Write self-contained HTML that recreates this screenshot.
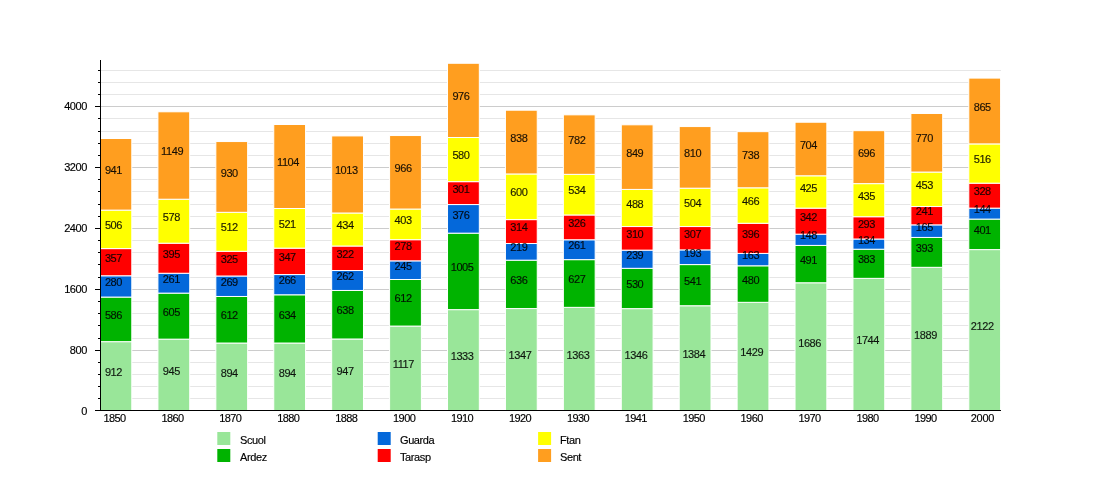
<!DOCTYPE html>
<html><head><meta charset="utf-8"><title>Chart</title>
<style>html,body{margin:0;padding:0;background:#fff}svg{display:block}text{font-family:"Liberation Sans",sans-serif;font-size:11px;letter-spacing:-0.4px;fill:#000;stroke:#000;stroke-width:0.15px}.xl text{letter-spacing:-0.6px}.bl text{fill-opacity:.88;stroke-opacity:.88}</style></head><body>
<svg width="1100" height="500" viewBox="0 0 1100 500">
<rect width="1100" height="500" fill="#fff"/>
<g shape-rendering="crispEdges">
<rect x="101" y="398" width="900" height="1" fill="#e6e6e6"/>
<rect x="101" y="386" width="900" height="1" fill="#e6e6e6"/>
<rect x="101" y="374" width="900" height="1" fill="#e6e6e6"/>
<rect x="101" y="362" width="900" height="1" fill="#e6e6e6"/>
<rect x="101" y="350" width="900" height="1" fill="#cccccc"/>
<rect x="101" y="338" width="900" height="1" fill="#e6e6e6"/>
<rect x="101" y="325" width="900" height="1" fill="#e6e6e6"/>
<rect x="101" y="313" width="900" height="1" fill="#e6e6e6"/>
<rect x="101" y="301" width="900" height="1" fill="#e6e6e6"/>
<rect x="101" y="289" width="900" height="1" fill="#cccccc"/>
<rect x="101" y="277" width="900" height="1" fill="#e6e6e6"/>
<rect x="101" y="264" width="900" height="1" fill="#e6e6e6"/>
<rect x="101" y="252" width="900" height="1" fill="#e6e6e6"/>
<rect x="101" y="240" width="900" height="1" fill="#e6e6e6"/>
<rect x="101" y="228" width="900" height="1" fill="#cccccc"/>
<rect x="101" y="216" width="900" height="1" fill="#e6e6e6"/>
<rect x="101" y="204" width="900" height="1" fill="#e6e6e6"/>
<rect x="101" y="191" width="900" height="1" fill="#e6e6e6"/>
<rect x="101" y="179" width="900" height="1" fill="#e6e6e6"/>
<rect x="101" y="167" width="900" height="1" fill="#cccccc"/>
<rect x="101" y="155" width="900" height="1" fill="#e6e6e6"/>
<rect x="101" y="143" width="900" height="1" fill="#e6e6e6"/>
<rect x="101" y="131" width="900" height="1" fill="#e6e6e6"/>
<rect x="101" y="118" width="900" height="1" fill="#e6e6e6"/>
<rect x="101" y="106" width="900" height="1" fill="#cccccc"/>
<rect x="101" y="94" width="900" height="1" fill="#e6e6e6"/>
<rect x="101" y="82" width="900" height="1" fill="#e6e6e6"/>
<rect x="101" y="70" width="900" height="1" fill="#e6e6e6"/>
</g>
<g stroke="#fff" stroke-width="1.0">
<rect x="100.00" y="341.66" width="31.80" height="69.39" fill="#99e699"/>
<rect x="100.00" y="297.07" width="31.80" height="44.59" fill="#00b300"/>
<rect x="100.00" y="275.77" width="31.80" height="21.30" fill="#0468da"/>
<rect x="100.00" y="248.60" width="31.80" height="27.16" fill="#ff0000"/>
<rect x="100.00" y="210.10" width="31.80" height="38.50" fill="#ffff00"/>
<rect x="100.00" y="138.51" width="31.80" height="71.60" fill="#ff9e1f"/>
<rect x="157.92" y="339.15" width="31.80" height="71.90" fill="#99e699"/>
<rect x="157.92" y="293.12" width="31.80" height="46.03" fill="#00b300"/>
<rect x="157.92" y="273.26" width="31.80" height="19.86" fill="#0468da"/>
<rect x="157.92" y="243.20" width="31.80" height="30.05" fill="#ff0000"/>
<rect x="157.92" y="199.22" width="31.80" height="43.98" fill="#ffff00"/>
<rect x="157.92" y="111.80" width="31.80" height="87.42" fill="#ff9e1f"/>
<rect x="215.84" y="343.03" width="31.80" height="68.02" fill="#99e699"/>
<rect x="215.84" y="296.46" width="31.80" height="46.57" fill="#00b300"/>
<rect x="215.84" y="276.00" width="31.80" height="20.47" fill="#0468da"/>
<rect x="215.84" y="251.27" width="31.80" height="24.73" fill="#ff0000"/>
<rect x="215.84" y="212.31" width="31.80" height="38.96" fill="#ffff00"/>
<rect x="215.84" y="141.55" width="31.80" height="70.76" fill="#ff9e1f"/>
<rect x="273.76" y="343.03" width="31.80" height="68.02" fill="#99e699"/>
<rect x="273.76" y="294.79" width="31.80" height="48.24" fill="#00b300"/>
<rect x="273.76" y="274.55" width="31.80" height="20.24" fill="#0468da"/>
<rect x="273.76" y="248.15" width="31.80" height="26.40" fill="#ff0000"/>
<rect x="273.76" y="208.51" width="31.80" height="39.64" fill="#ffff00"/>
<rect x="273.76" y="124.51" width="31.80" height="84.00" fill="#ff9e1f"/>
<rect x="331.68" y="339.00" width="31.80" height="72.05" fill="#99e699"/>
<rect x="331.68" y="290.45" width="31.80" height="48.54" fill="#00b300"/>
<rect x="331.68" y="270.52" width="31.80" height="19.93" fill="#0468da"/>
<rect x="331.68" y="246.02" width="31.80" height="24.50" fill="#ff0000"/>
<rect x="331.68" y="213.00" width="31.80" height="33.02" fill="#ffff00"/>
<rect x="331.68" y="135.92" width="31.80" height="77.08" fill="#ff9e1f"/>
<rect x="389.60" y="326.06" width="31.80" height="84.99" fill="#99e699"/>
<rect x="389.60" y="279.50" width="31.80" height="46.57" fill="#00b300"/>
<rect x="389.60" y="260.85" width="31.80" height="18.64" fill="#0468da"/>
<rect x="389.60" y="239.70" width="31.80" height="21.15" fill="#ff0000"/>
<rect x="389.60" y="209.04" width="31.80" height="30.66" fill="#ffff00"/>
<rect x="389.60" y="135.54" width="31.80" height="73.50" fill="#ff9e1f"/>
<rect x="447.52" y="309.63" width="31.80" height="101.42" fill="#99e699"/>
<rect x="447.52" y="233.16" width="31.80" height="76.47" fill="#00b300"/>
<rect x="447.52" y="204.55" width="31.80" height="28.61" fill="#0468da"/>
<rect x="447.52" y="181.65" width="31.80" height="22.90" fill="#ff0000"/>
<rect x="447.52" y="137.52" width="31.80" height="44.13" fill="#ffff00"/>
<rect x="447.52" y="63.26" width="31.80" height="74.26" fill="#ff9e1f"/>
<rect x="505.44" y="308.56" width="31.80" height="102.49" fill="#99e699"/>
<rect x="505.44" y="260.17" width="31.80" height="48.39" fill="#00b300"/>
<rect x="505.44" y="243.51" width="31.80" height="16.66" fill="#0468da"/>
<rect x="505.44" y="219.62" width="31.80" height="23.89" fill="#ff0000"/>
<rect x="505.44" y="173.96" width="31.80" height="45.65" fill="#ffff00"/>
<rect x="505.44" y="110.20" width="31.80" height="63.76" fill="#ff9e1f"/>
<rect x="563.36" y="307.34" width="31.80" height="103.71" fill="#99e699"/>
<rect x="563.36" y="259.64" width="31.80" height="47.71" fill="#00b300"/>
<rect x="563.36" y="239.78" width="31.80" height="19.86" fill="#0468da"/>
<rect x="563.36" y="214.97" width="31.80" height="24.80" fill="#ff0000"/>
<rect x="563.36" y="174.34" width="31.80" height="40.63" fill="#ffff00"/>
<rect x="563.36" y="114.84" width="31.80" height="59.50" fill="#ff9e1f"/>
<rect x="621.28" y="308.64" width="31.80" height="102.41" fill="#99e699"/>
<rect x="621.28" y="268.31" width="31.80" height="40.33" fill="#00b300"/>
<rect x="621.28" y="250.13" width="31.80" height="18.18" fill="#0468da"/>
<rect x="621.28" y="226.54" width="31.80" height="23.59" fill="#ff0000"/>
<rect x="621.28" y="189.41" width="31.80" height="37.13" fill="#ffff00"/>
<rect x="621.28" y="124.81" width="31.80" height="64.60" fill="#ff9e1f"/>
<rect x="679.20" y="305.75" width="31.80" height="105.30" fill="#99e699"/>
<rect x="679.20" y="264.58" width="31.80" height="41.16" fill="#00b300"/>
<rect x="679.20" y="249.90" width="31.80" height="14.68" fill="#0468da"/>
<rect x="679.20" y="226.54" width="31.80" height="23.36" fill="#ff0000"/>
<rect x="679.20" y="188.19" width="31.80" height="38.35" fill="#ffff00"/>
<rect x="679.20" y="126.56" width="31.80" height="61.63" fill="#ff9e1f"/>
<rect x="737.12" y="302.32" width="31.80" height="108.73" fill="#99e699"/>
<rect x="737.12" y="265.80" width="31.80" height="36.52" fill="#00b300"/>
<rect x="737.12" y="253.40" width="31.80" height="12.40" fill="#0468da"/>
<rect x="737.12" y="223.27" width="31.80" height="30.13" fill="#ff0000"/>
<rect x="737.12" y="187.81" width="31.80" height="35.46" fill="#ffff00"/>
<rect x="737.12" y="131.66" width="31.80" height="56.15" fill="#ff9e1f"/>
<rect x="795.04" y="282.77" width="31.80" height="128.28" fill="#99e699"/>
<rect x="795.04" y="245.41" width="31.80" height="37.36" fill="#00b300"/>
<rect x="795.04" y="234.15" width="31.80" height="11.26" fill="#0468da"/>
<rect x="795.04" y="208.13" width="31.80" height="26.02" fill="#ff0000"/>
<rect x="795.04" y="175.79" width="31.80" height="32.34" fill="#ffff00"/>
<rect x="795.04" y="122.22" width="31.80" height="53.57" fill="#ff9e1f"/>
<rect x="852.96" y="278.35" width="31.80" height="132.70" fill="#99e699"/>
<rect x="852.96" y="249.21" width="31.80" height="29.14" fill="#00b300"/>
<rect x="852.96" y="239.02" width="31.80" height="10.20" fill="#0468da"/>
<rect x="852.96" y="216.72" width="31.80" height="22.29" fill="#ff0000"/>
<rect x="852.96" y="183.63" width="31.80" height="33.10" fill="#ffff00"/>
<rect x="852.96" y="130.67" width="31.80" height="52.96" fill="#ff9e1f"/>
<rect x="910.88" y="267.32" width="31.80" height="143.73" fill="#99e699"/>
<rect x="910.88" y="237.42" width="31.80" height="29.90" fill="#00b300"/>
<rect x="910.88" y="224.87" width="31.80" height="12.55" fill="#0468da"/>
<rect x="910.88" y="206.53" width="31.80" height="18.34" fill="#ff0000"/>
<rect x="910.88" y="172.06" width="31.80" height="34.47" fill="#ffff00"/>
<rect x="910.88" y="113.47" width="31.80" height="58.59" fill="#ff9e1f"/>
<rect x="968.80" y="249.59" width="31.80" height="161.46" fill="#99e699"/>
<rect x="968.80" y="219.08" width="31.80" height="30.51" fill="#00b300"/>
<rect x="968.80" y="208.13" width="31.80" height="10.96" fill="#0468da"/>
<rect x="968.80" y="183.17" width="31.80" height="24.96" fill="#ff0000"/>
<rect x="968.80" y="143.91" width="31.80" height="39.26" fill="#ffff00"/>
<rect x="968.80" y="78.09" width="31.80" height="65.82" fill="#ff9e1f"/>
</g>
<g shape-rendering="crispEdges" fill="#000">
<rect x="100" y="60" width="1" height="351"/>
<rect x="95" y="410" width="906" height="1"/>
<rect x="98" y="398" width="2" height="1"/>
<rect x="98" y="386" width="2" height="1"/>
<rect x="98" y="374" width="2" height="1"/>
<rect x="98" y="362" width="2" height="1"/>
<rect x="95" y="350" width="5" height="1"/>
<rect x="98" y="338" width="2" height="1"/>
<rect x="98" y="325" width="2" height="1"/>
<rect x="98" y="313" width="2" height="1"/>
<rect x="98" y="301" width="2" height="1"/>
<rect x="95" y="289" width="5" height="1"/>
<rect x="98" y="277" width="2" height="1"/>
<rect x="98" y="264" width="2" height="1"/>
<rect x="98" y="252" width="2" height="1"/>
<rect x="98" y="240" width="2" height="1"/>
<rect x="95" y="228" width="5" height="1"/>
<rect x="98" y="216" width="2" height="1"/>
<rect x="98" y="204" width="2" height="1"/>
<rect x="98" y="191" width="2" height="1"/>
<rect x="98" y="179" width="2" height="1"/>
<rect x="95" y="167" width="5" height="1"/>
<rect x="98" y="155" width="2" height="1"/>
<rect x="98" y="143" width="2" height="1"/>
<rect x="98" y="131" width="2" height="1"/>
<rect x="98" y="118" width="2" height="1"/>
<rect x="95" y="106" width="5" height="1"/>
<rect x="98" y="94" width="2" height="1"/>
<rect x="98" y="82" width="2" height="1"/>
<rect x="98" y="70" width="2" height="1"/>
</g>
<g class="yl">
<text x="87" y="415" text-anchor="end">0</text>
<text x="87" y="354" text-anchor="end">800</text>
<text x="87" y="293" text-anchor="end">1600</text>
<text x="87" y="232" text-anchor="end">2400</text>
<text x="87" y="171" text-anchor="end">3200</text>
<text x="87" y="110" text-anchor="end">4000</text>
</g>
<g class="xl">
<text x="103.5" y="422">1850</text>
<text x="161.4" y="422">1860</text>
<text x="219.3" y="422">1870</text>
<text x="277.3" y="422">1880</text>
<text x="335.2" y="422">1888</text>
<text x="393.1" y="422">1900</text>
<text x="451.0" y="422">1910</text>
<text x="508.9" y="422">1920</text>
<text x="566.9" y="422">1930</text>
<text x="624.8" y="422">1941</text>
<text x="682.7" y="422">1950</text>
<text x="740.6" y="422">1960</text>
<text x="798.5" y="422">1970</text>
<text x="856.5" y="422">1980</text>
<text x="914.4" y="422">1990</text>
<text x="970.8" y="422" style="letter-spacing:-0.3px">2000</text>
</g>
<g class="bl">
<text x="104.9" y="376.0">912</text>
<text x="104.9" y="319.0">586</text>
<text x="104.9" y="286.0">280</text>
<text x="104.9" y="261.8">357</text>
<text x="104.9" y="229.0">506</text>
<text x="104.9" y="173.9">941</text>
<text x="162.8" y="374.7">945</text>
<text x="162.8" y="315.7">605</text>
<text x="162.8" y="282.8">261</text>
<text x="162.8" y="257.8">395</text>
<text x="162.8" y="220.8">578</text>
<text x="161.1" y="155.1">1149</text>
<text x="220.7" y="376.6">894</text>
<text x="220.7" y="319.3">612</text>
<text x="220.7" y="285.8">269</text>
<text x="220.7" y="263.2">325</text>
<text x="220.7" y="231.4">512</text>
<text x="220.7" y="176.5">930</text>
<text x="278.7" y="376.6">894</text>
<text x="278.7" y="318.5">634</text>
<text x="278.7" y="284.3">266</text>
<text x="278.7" y="260.9">347</text>
<text x="278.7" y="227.9">521</text>
<text x="277.0" y="166.1">1104</text>
<text x="336.6" y="374.6">947</text>
<text x="336.6" y="314.3">638</text>
<text x="336.6" y="280.1">262</text>
<text x="336.6" y="257.9">322</text>
<text x="336.6" y="229.1">434</text>
<text x="334.9" y="174.1">1013</text>
<text x="392.8" y="368.2">1117</text>
<text x="394.5" y="302.4">612</text>
<text x="394.5" y="269.8">245</text>
<text x="394.5" y="249.9">278</text>
<text x="394.5" y="224.0">403</text>
<text x="394.5" y="171.9">966</text>
<text x="450.7" y="359.9">1333</text>
<text x="450.7" y="271.0">1005</text>
<text x="452.4" y="218.5">376</text>
<text x="452.4" y="192.7">301</text>
<text x="452.4" y="159.2">580</text>
<text x="452.4" y="100.0">976</text>
<text x="508.6" y="359.4">1347</text>
<text x="510.3" y="284.0">636</text>
<text x="510.3" y="251.4">219</text>
<text x="510.3" y="231.2">314</text>
<text x="510.3" y="196.4">600</text>
<text x="510.3" y="141.7">838</text>
<text x="566.6" y="358.8">1363</text>
<text x="568.3" y="283.1">627</text>
<text x="568.3" y="249.3">261</text>
<text x="568.3" y="227.0">326</text>
<text x="568.3" y="194.3">534</text>
<text x="568.3" y="144.2">782</text>
<text x="624.5" y="359.4">1346</text>
<text x="626.2" y="288.1">530</text>
<text x="626.2" y="258.8">239</text>
<text x="626.2" y="237.9">310</text>
<text x="626.2" y="207.6">488</text>
<text x="626.2" y="156.7">849</text>
<text x="682.4" y="358.0">1384</text>
<text x="684.1" y="284.8">541</text>
<text x="684.1" y="256.8">193</text>
<text x="684.1" y="237.8">307</text>
<text x="684.1" y="207.0">504</text>
<text x="684.1" y="157.0">810</text>
<text x="740.3" y="356.3">1429</text>
<text x="742.0" y="283.7">480</text>
<text x="742.0" y="259.2">163</text>
<text x="742.0" y="237.9">396</text>
<text x="742.0" y="205.1">466</text>
<text x="742.0" y="159.3">738</text>
<text x="798.2" y="346.5">1686</text>
<text x="799.9" y="263.7">491</text>
<text x="799.9" y="239.4">148</text>
<text x="799.9" y="220.7">342</text>
<text x="799.9" y="191.6">425</text>
<text x="799.9" y="148.6">704</text>
<text x="856.2" y="344.3">1744</text>
<text x="857.9" y="263.4">383</text>
<text x="857.9" y="243.7">134</text>
<text x="857.9" y="227.5">293</text>
<text x="857.9" y="199.8">435</text>
<text x="857.9" y="156.7">696</text>
<text x="914.1" y="338.8">1889</text>
<text x="915.8" y="252.0">393</text>
<text x="915.8" y="230.7">165</text>
<text x="915.8" y="215.3">241</text>
<text x="915.8" y="188.9">453</text>
<text x="915.8" y="142.4">770</text>
<text x="970.8" y="329.9">2122</text>
<text x="973.7" y="233.9">401</text>
<text x="973.7" y="213.2">144</text>
<text x="973.7" y="195.2">328</text>
<text x="973.7" y="163.1">516</text>
<text x="973.7" y="110.6">865</text>
</g>
<rect x="217.3" y="432" width="13" height="13" fill="#99e699"/>
<text x="240" y="444">Scuol</text>
<rect x="217.3" y="449" width="13" height="13" fill="#00b300"/>
<text x="240" y="461">Ardez</text>
<rect x="377.7" y="432" width="13" height="13" fill="#0468da"/>
<text x="400" y="444">Guarda</text>
<rect x="377.7" y="449" width="13" height="13" fill="#ff0000"/>
<text x="400" y="461">Tarasp</text>
<rect x="538.1" y="432" width="13" height="13" fill="#ffff00"/>
<text x="560" y="444">Ftan</text>
<rect x="538.1" y="449" width="13" height="13" fill="#ff9e1f"/>
<text x="560" y="461">Sent</text>
</svg></body></html>
